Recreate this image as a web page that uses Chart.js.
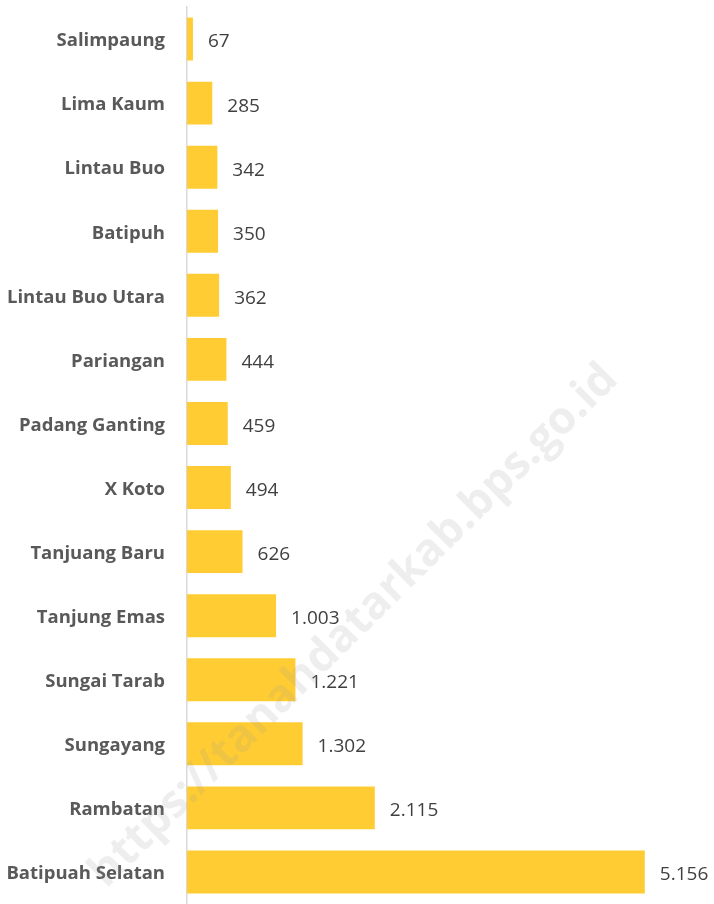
<!DOCTYPE html>
<html>
<head>
<meta charset="utf-8">
<script src="https://cdn.jsdelivr.net/npm/chart.js@4"></script>
<style>
html,body{margin:0;padding:0;background:#fff;}
#wrap{width:714px;height:904px;position:relative;}
</style>
</head>
<body>
<div id="wrap"><canvas id="c" width="714" height="904"></canvas></div>
<script>
const categories = ["Salimpaung","Lima Kaum","Lintau Buo","Batipuh","Lintau Buo Utara","Pariangan","Padang Ganting","X Koto","Tanjuang Baru","Tanjung Emas","Sungai Tarab","Sungayang","Rambatan","Batipuah Selatan"];
const values = [67,285,342,350,362,444,459,494,626,1003,1221,1302,2115,5156];
const watermarkText = "https://tanahdatarkab.bps.go.id";

function fmt(v){ return String(v).replace(/\B(?=(\d{3})+(?!\d))/g, "."); }

const valueLabels = {
  id: 'valueLabels',
  afterDatasetsDraw(chart){
    const ctx = chart.ctx;
    const meta = chart.getDatasetMeta(0);
    ctx.save();
    ctx.font = '19px "Open Sans"';
    ctx.fillStyle = '#404040';
    ctx.textAlign = 'left';
    ctx.textBaseline = 'middle';
    meta.data.forEach((bar, i) => {
      ctx.fillText(fmt(values[i]), bar.x + 15, bar.y + 3);
    });
    ctx.restore();
  }
};

const watermark = {
  id: 'watermark',
  afterDraw(chart){
    const ctx = chart.ctx;
    ctx.save();
    ctx.translate(354, 626);
    ctx.rotate(-44.7 * Math.PI / 180);
    ctx.font = 'bold 45px "Open Sans"';
    ctx.fillStyle = 'rgba(150,150,150,0.16)';
    ctx.textAlign = 'center';
    ctx.textBaseline = 'middle';
    ctx.fillText(watermarkText, 0, 0);
    ctx.restore();
  }
};

new Chart(document.getElementById('c'), {
  type: 'bar',
  data: {
    labels: categories,
    datasets: [{
      data: values,
      backgroundColor: '#FFCD33',
      borderWidth: 0,
      categoryPercentage: 1,
      barPercentage: 0.67
    }]
  },
  options: {
    indexAxis: 'y',
    responsive: false,
    animation: false,
    layout: { padding: { top: 7, bottom: 0, left: 0, right: 12 } },
    plugins: { legend: { display: false }, tooltip: { enabled: false } },
    scales: {
      x: {
        display: false,
        min: 0,
        max: 5800
      },
      y: {
        grid: { display: false, drawTicks: false },
        border: { display: true, color: '#D9D9D9', width: 1.5 },
        ticks: {
          color: '#595959',
          font: { family: 'Open Sans', weight: 'bold', size: 18.5 },
          padding: 22,
          labelOffset: 2
        },
        afterFit(scale){ scale.width = 187; scale.paddingTop = 0; scale.paddingBottom = 0; }
      }
    }
  },
  plugins: [valueLabels, watermark]
});
</script>
</body>
</html>
